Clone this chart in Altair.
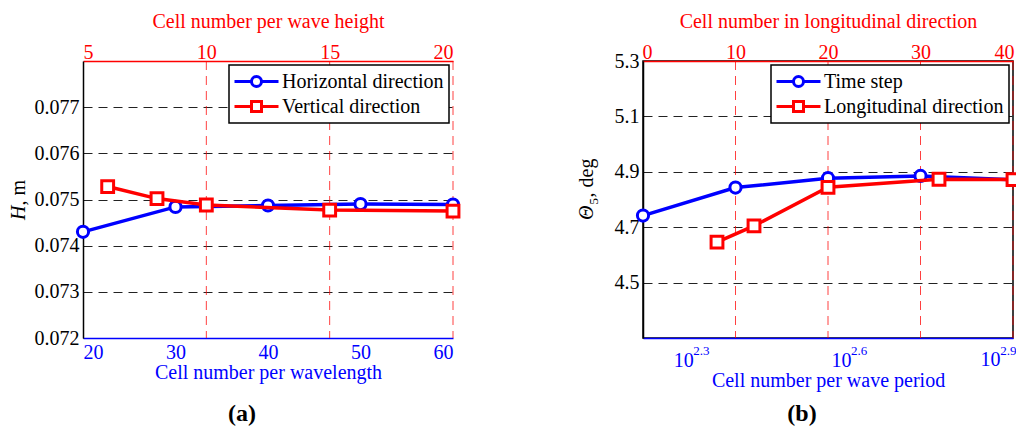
import altair as alt
import pandas as pd

FONT = "Liberation Serif"
BLUE = "#0000ff"
RED = "#ff0000"
W, H = 370, 277

# ---------- panel (a) data ----------
a_series = ["Horizontal direction", "Vertical direction"]
a_horiz_cells = [20, 30, 40, 50, 60]
a_horiz_H = [0.07430, 0.07484, 0.07487, 0.07490, 0.07489]
a_vert_cells = [6, 8, 10, 15, 20]
a_vert_H = [0.07528, 0.07502, 0.07488, 0.07477, 0.07475]
a_y_ticks = [0.072, 0.073, 0.074, 0.075, 0.076, 0.077]
a_bottom_ticks = [20, 30, 40, 50, 60]
a_top_ticks = [5, 10, 15, 20]

# ---------- panel (b) data ----------
b_series = ["Time step", "Longitudinal direction"]
b_time_cells = [160, 240, 360, 540, 810]
b_time_theta = [4.742, 4.843, 4.877, 4.885, 4.871]
b_long_cells = [8, 12, 20, 32, 40]
b_long_theta = [4.646, 4.705, 4.844, 4.873, 4.872]
b_y_ticks = [4.5, 4.7, 4.9, 5.1, 5.3]
b_bottom_exponents = [2.3, 2.6, 2.9]
b_top_ticks = [0, 10, 20, 30, 40]

CIRCLE_SYM = "M-2.2,0H-0.5M0.5,0H2.2M0.5,0A0.5,0.5 0 1,1 -0.5,0A0.5,0.5 0 1,1 0.5,0Z"
SQUARE_SYM = "M-2.2,0H-0.5M0.5,0H2.2M-0.5,-0.5H0.5V0.5H-0.5Z"


def y_axis(ticks, fmt):
    return alt.Axis(values=ticks, format=fmt, title=None, grid=True,
                    gridColor="#222222", gridDash=[9, 6], gridWidth=1,
                    domainColor="black", domainWidth=1.5, ticks=False,
                    labelFont=FONT, labelFontSize=20, labelColor="black",
                    labelPadding=4)


def legend():
    return alt.Legend(title=None, orient="top-right", offset=4, fillColor="white",
                      strokeColor="black", padding=5, labelFont=FONT,
                      labelFontSize=20, labelColor="black", labelLimit=400,
                      symbolSize=400, symbolStrokeWidth=3, symbolOffset=11,
                      labelOffset=14, rowPadding=2, symbolOpacity=1)


def title_layer(pieces, xpos):
    """pieces: list of (text, style, size, along_offset, across_offset, align)"""
    layers = []
    for text, style, size, dx, dy, align in pieces:
        df = pd.DataFrame({"t": [text]})
        layers.append(alt.Chart(df).mark_text(
            font=FONT, fontSize=size, fontStyle=style, color="black", angle=270,
            align=align, baseline="alphabetic", dx=dx, dy=dy).encode(
            x=alt.value(xpos), y=alt.value(H / 2 + 6), text="t:N"))
    return layers


def panel(series, bx, by, tx, ty, ydom, yticks, yfmt, ytitle_pieces, ytitle_x,
          bscale, baxis, tdom, tticks, ttitle, caption, extra_bottom=(), top_flush=None):
    yenc = alt.Y("y:Q", scale=alt.Scale(domain=ydom, nice=False, zero=False),
                 axis=y_axis(yticks, yfmt))
    xb = alt.X("xb:Q", scale=bscale, axis=baxis)
    tscale = alt.Scale(domain=tdom, nice=False, zero=False)
    top_kw = dict(orient="top", values=tticks, title=ttitle, grid=False,
                  domainColor=RED, domainWidth=1.5, ticks=False,
                  labelFont=FONT, labelFontSize=20, labelColor=RED,
                  labelPadding=-1, titleFont=FONT, titleFontSize=20,
                  titleFontWeight="normal", titleColor=RED, titlePadding=11)
    if top_flush is not None:
        top_kw.update(labelFlush=True, labelFlushOffset=top_flush)
    xt = alt.X("xt:Q", scale=tscale, axis=alt.Axis(**top_kw))
    df_b = pd.DataFrame({"xb": bx, "y": by})
    df_t = pd.DataFrame({"xt": tx, "y": ty})
    df_grid = pd.DataFrame({"xg": tticks[1:]})
    df_leg = pd.DataFrame({"xb": [bx[0]] * 2, "y": [by[0]] * 2, "series": series})
    df_cap = pd.DataFrame({"cap": [caption]})

    grid = alt.Chart(df_grid).mark_rule(color=RED, strokeDash=[9, 6], strokeWidth=1,
                                        opacity=0.75).encode(
        x=alt.X("xg:Q", scale=tscale, axis=None))

    bline = alt.Chart(df_b).mark_line(color=BLUE, strokeWidth=3.5).encode(x=xb, y=yenc)
    bpts = alt.Chart(df_b).mark_point(shape="circle", size=125, filled=True, fill="white",
                                      stroke=BLUE, strokeWidth=3, opacity=1).encode(x=xb, y=yenc)
    leg = alt.Chart(df_leg).mark_point(opacity=0, size=400, strokeWidth=3).encode(
        x=xb, y=yenc,
        color=alt.Color("series:N", scale=alt.Scale(domain=series, range=[BLUE, RED]), legend=legend()),
        shape=alt.Shape("series:N", scale=alt.Scale(domain=series, range=[CIRCLE_SYM, SQUARE_SYM]), legend=legend()),
    )
    cap = alt.Chart(df_cap).mark_text(font=FONT, fontSize=24, fontWeight="bold", color="black",
                                      align="center", baseline="alphabetic").encode(
        x=alt.value(159), y=alt.value(H + 83), text="cap:N")
    tline = alt.Chart(df_t).mark_line(color=RED, strokeWidth=3.5).encode(x=xt, y=yenc)
    tpts = alt.Chart(df_t).mark_point(shape="square", size=140, filled=True, fill="white",
                                      stroke=RED, strokeWidth=3, opacity=1).encode(x=xt, y=yenc)

    extras = [l for e in extra_bottom for l in e(xb)]
    bottom = alt.layer(bline, bpts, *extras, leg, cap, *title_layer(ytitle_pieces, ytitle_x))
    top = alt.layer(tline, tpts)
    return alt.layer(grid, bottom, top).resolve_scale(x="independent").properties(width=W, height=H)


def bottom_axis_kwargs():
    return dict(orient="bottom", grid=False, domainColor=BLUE, domainWidth=1.5, ticks=False,
                labelFont=FONT, labelFontSize=20, labelColor=BLUE,
                titleFont=FONT, titleFontSize=20, titleFontWeight="normal", titleColor=BLUE)


left = panel(
    a_series, a_horiz_cells, a_horiz_H, a_vert_cells, a_vert_H,
    [0.072, 0.078], a_y_ticks, ".3f",
    [("H", "italic", 20, 0, 0, "right"), (", m", "normal", 20, 0, 0, "left")], -58,
    alt.Scale(domain=[20, 60], nice=False, zero=False),
    alt.Axis(values=a_bottom_ticks, title="Cell number per wavelength", labelPadding=4,
             titlePadding=0, **bottom_axis_kwargs()),
    [5, 20], a_top_ticks, "Cell number per wave height", "(a)",
)

exp_df = pd.DataFrame({"xb": [10 ** e for e in b_bottom_exponents],
                       "e": b_bottom_exponents,
                       "lab": [str(e) for e in b_bottom_exponents]})
LAST_EXP = b_bottom_exponents[-1]


def exponent_layers(xb):
    # inner ticks: "10" comes from the axis, exponent sits just right of the tick
    inner = alt.Chart(exp_df).transform_filter(f"datum.e < {LAST_EXP}").mark_text(
        font=FONT, fontSize=13, color=BLUE, align="left", baseline="alphabetic").encode(
        x=xb, y=alt.value(H + 17), text="lab:N")
    # last tick sits at the right edge: keep the whole "10^2.9" label inside the picture
    last_exp = alt.Chart(exp_df).transform_filter(f"datum.e >= {LAST_EXP}").mark_text(
        font=FONT, fontSize=13, color=BLUE, align="right", baseline="alphabetic", dx=8).encode(
        x=xb, y=alt.value(H + 17), text="lab:N")
    last_base = alt.Chart(exp_df).transform_filter(f"datum.e >= {LAST_EXP}").transform_calculate(
        base="'10'").mark_text(
        font=FONT, fontSize=20, color=BLUE, align="right", baseline="top", dx=-8).encode(
        x=xb, y=alt.value(H + 12), text="base:N")
    return [inner, last_exp, last_base]


right = panel(
    b_series, b_time_cells, b_time_theta, b_long_cells, b_long_theta,
    [4.3, 5.3], b_y_ticks, ".1f",
    [("\u0398", "italic", 20, 0, 0, "right"), ("5", "normal", 13, 1, 5, "left"),
     (", deg", "normal", 20, 8, 0, "left")], -50,
    alt.Scale(type="log", domain=[160, 810], nice=False, zero=False),
    alt.Axis(values=[10 ** e for e in b_bottom_exponents],
             labelExpr=f"datum.value > {10 ** (LAST_EXP - 0.05)} ? '' : '10'", labelAlign="right",
             title="Cell number per wave period", labelPadding=12, titlePadding=0,
             **bottom_axis_kwargs()),
    [0, 40], b_top_ticks, "Cell number in longitudinal direction", "(b)",
    extra_bottom=(exponent_layers,), top_flush=1,
).properties(view=alt.ViewBackground(stroke="black", strokeWidth=1.5))

chart = alt.hconcat(left, right, spacing=110).resolve_scale(
    color="independent", shape="independent"
).properties(padding={"left": 0, "top": 2, "right": -10, "bottom": 0}).configure_view(
    stroke="transparent"
).configure_legend(strokeWidth=1.5)

chart.save("out.html", embed_options={"renderer": "svg", "actions": False})
